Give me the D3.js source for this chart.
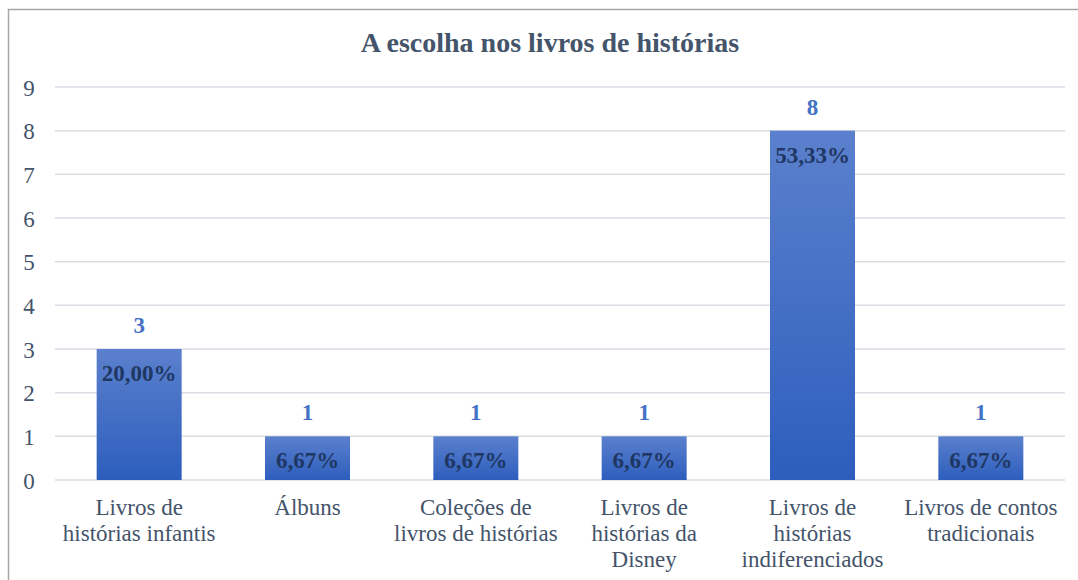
<!DOCTYPE html>
<html>
<head>
<meta charset="utf-8">
<script src="https://cdn.jsdelivr.net/npm/d3@7"></script>
<style>
  body { margin: 0; background: #fff; }
</style>
</head>
<body>
<svg id="chart" width="1078" height="580"></svg>
<script>
// ** Data **
const categories = [
  ["Livros de", "histórias infantis"],
  ["Álbuns"],
  ["Coleções de", "livros de histórias"],
  ["Livros de", "histórias da", "Disney"],
  ["Livros de", "histórias", "indiferenciados"],
  ["Livros de contos", "tradicionais"]
];
const counts = [3, 1, 1, 1, 8, 1];
const percents = ["20,00%", "6,67%", "6,67%", "6,67%", "53,33%", "6,67%"];
const yTicks = [0, 1, 2, 3, 4, 5, 6, 7, 8, 9];

// ** Layout **
const plot = { left: 55, right: 1065, top: 87, bottom: 480 };
const textColor = "#44546a";
const serif = "Liberation Serif";

let svg = d3.select("#chart").style("font-family", serif);

// gradient for bars
let grad = svg.append("defs").append("linearGradient")
  .attr("id", "barGrad")
  .attr("x1", 0).attr("y1", 0).attr("x2", 0).attr("y2", 1);
grad.append("stop").attr("offset", "0%").attr("stop-color", "#5b80cd");
grad.append("stop").attr("offset", "100%").attr("stop-color", "#2d5ebd");

// chart border (right and bottom edges fall outside the picture)
svg.append("rect")
  .attr("x", 8.5).attr("y", 9.5)
  .attr("width", 1100).attr("height", 600)
  .attr("fill", "none")
  .attr("stroke", "#a6a6a6")
  .attr("stroke-width", 1.5);

// title
svg.append("text")
  .attr("x", 550).attr("y", 52)
  .attr("text-anchor", "middle")
  .style("font-family", serif)
  .style("font-size", "28px")
  .style("font-weight", "bold")
  .style("fill", textColor)
  .text("A escolha nos livros de histórias");

let x = d3.scaleBand()
  .domain(d3.range(categories.length))
  .range([plot.left, plot.right])
  .paddingInner(0.495)
  .paddingOuter(0.2475);

let y = d3.scaleLinear()
  .domain([0, 9])
  .range([plot.bottom, plot.top]);

// gridlines
svg.append("g")
  .selectAll("line")
  .data(yTicks)
  .join("line")
  .attr("x1", plot.left).attr("x2", plot.right)
  .attr("y1", d => y(d)).attr("y2", d => y(d))
  .attr("stroke", "#d9dde4")
  .attr("stroke-width", 1.5);

// y axis labels
let yAxis = svg.append("g")
  .attr("transform", `translate(${plot.left - 17},0)`)
  .call(d3.axisLeft(y).tickValues(yTicks).tickSize(0).tickPadding(0));
yAxis.attr("font-family", null).attr("font-size", null);
yAxis.select(".domain").remove();
yAxis.selectAll("text")
  .attr("text-anchor", "middle")
  .attr("x", -9)
  .attr("dy", "0.35em")
  .style("font-size", "23px")
  .style("font-family", serif)
  .style("fill", textColor);

// bars
svg.append("g")
  .selectAll("rect")
  .data(counts)
  .join("rect")
  .attr("x", (d, i) => x(i))
  .attr("y", d => y(d))
  .attr("width", x.bandwidth())
  .attr("height", d => y(0) - y(d))
  .attr("fill", "url(#barGrad)");

// value labels above bars
svg.append("g")
  .selectAll("text")
  .data(counts)
  .join("text")
  .attr("x", (d, i) => x(i) + x.bandwidth() / 2)
  .attr("y", d => y(d) - 16)
  .attr("text-anchor", "middle")
  .style("font-family", serif)
  .style("font-size", "23px")
  .style("font-weight", "bold")
  .style("fill", "#4472c4")
  .text(d => d);

// percent labels inside bars
svg.append("g")
  .selectAll("text")
  .data(counts)
  .join("text")
  .attr("x", (d, i) => x(i) + x.bandwidth() / 2)
  .attr("y", d => y(d) + 32)
  .attr("text-anchor", "middle")
  .style("font-family", serif)
  .style("font-size", "23px")
  .style("font-weight", "bold")
  .style("fill", "#1f3763")
  .text((d, i) => percents[i]);

// category labels
let catG = svg.append("g")
  .selectAll("text")
  .data(categories)
  .join("text")
  .attr("x", (d, i) => x(i) + x.bandwidth() / 2)
  .attr("y", 515)
  .attr("text-anchor", "middle")
  .style("font-family", serif)
  .style("font-size", "23px")
  .style("fill", textColor);
catG.selectAll("tspan")
  .data(d => d)
  .join("tspan")
  .attr("x", function() { return this.parentNode.getAttribute("x"); })
  .attr("dy", (d, j) => j === 0 ? 0 : 26)
  .text(d => d);
</script>
</body>
</html>
